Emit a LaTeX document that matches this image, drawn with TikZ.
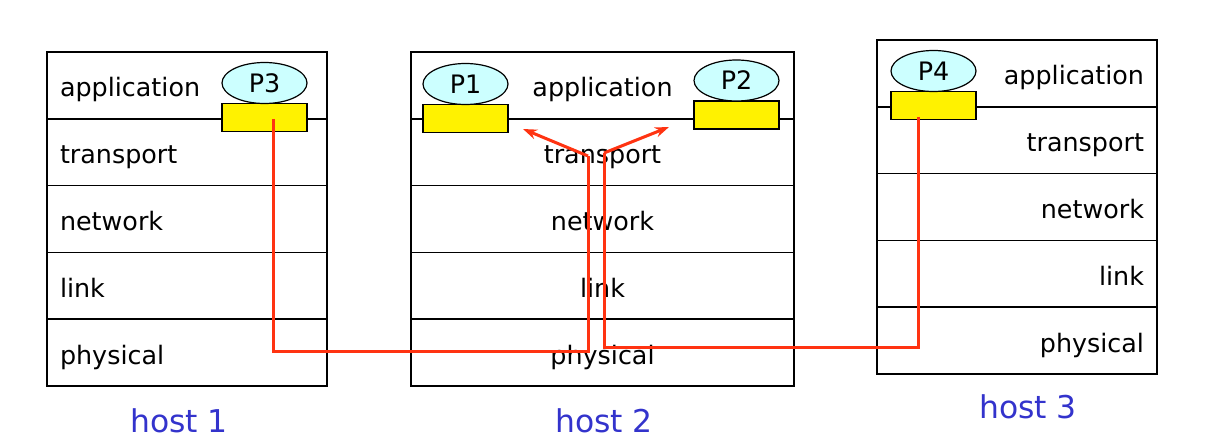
\documentclass[tikz,border=0pt]{standalone}
\usepackage{fontspec}
\setmainfont{DejaVu Sans}
\usetikzlibrary{arrows.meta,shapes.geometric,positioning}

\definecolor{pkred}{RGB}{255,51,17}
\definecolor{hostblue}{RGB}{51,51,204}
\definecolor{proccyan}{RGB}{204,255,255}

\begin{document}
\begin{tikzpicture}[
    x=0.5pt, y=-0.5pt,
    layer/.style={draw, line width=0.8pt, outer sep=0pt, inner xsep=6.5pt, inner ysep=0pt,
        minimum height=33.4pt, text height=11.5pt, text depth=0pt, font=\fontsize{12.7}{15}\selectfont},
    lay1/.style={layer, text width=127pt, align=left},
    lay2/.style={layer, text width=178.5pt, align=center},
    lay3/.style={layer, text width=127pt, align=right},
    sock/.style={draw, line width=0.6pt, fill=yellow, minimum width=42.5pt, minimum height=14pt, inner sep=0pt, outer sep=0pt},
    proc/.style={ellipse, draw, line width=0.6pt, fill=proccyan, minimum width=42.5pt, minimum height=20.5pt, inner sep=0pt, outer sep=0pt, font=\fontsize{12.7}{15}\selectfont},
    hostlbl/.style={text=hostblue, font=\fontsize{15.7}{18}\selectfont},
    pkt/.style={pkred, line width=1.5pt},
    pktarr/.style={pkred, line width=1.5pt, -{Stealth[length=7pt,width=5pt]}}
]
\useasboundingbox (0,0) rectangle (1208,438);

% host 1
\node[lay1, anchor=north west] (h1app) at (47,52) {application};
\node[lay1, below=0pt of h1app] (h1trans) {transport};
\node[lay1, below=0pt of h1trans] (h1net) {network};
\node[lay1, below=0pt of h1net] (h1link) {link};
\node[lay1, below=0pt of h1link] (h1phys) {physical};

% host 2
\node[lay2, anchor=north west] (h2app) at (411,52) {application};
\node[lay2, below=0pt of h2app] (h2trans) {transport};
\node[lay2, below=0pt of h2trans] (h2net) {network};
\node[lay2, below=0pt of h2net] (h2link) {link};
\node[lay2, below=0pt of h2link] (h2phys) {physical};

% host 3
\node[lay3, anchor=north west] (h3app) at (877,40) {application};
\node[lay3, below=0pt of h3app] (h3trans) {transport};
\node[lay3, below=0pt of h3trans] (h3net) {network};
\node[lay3, below=0pt of h3net] (h3link) {link};
\node[lay3, below=0pt of h3link] (h3phys) {physical};

% sockets and processes
\node[sock] (p3box) at (264.5,117.5) {};
\node[proc, above=0pt of p3box] (p3) {P3};
\node[sock] (p1box) at (465.5,118.5) {};
\node[proc, above=0pt of p1box] (p1) {P1};
\node[sock] (p2box) at (736.5,115) {};
\node[proc, above=0pt of p2box] (p2) {P2};
\node[sock] (p4box) at (933.5,105.5) {};
\node[proc, above=0pt of p4box] (p4) {P4};

% host labels
\node[hostlbl] (host1) at (179,421) {host 1};
\node[hostlbl] (host2) at (604,421) {host 2};
\node[hostlbl] (host3) at (1028,407) {host 3};

% packet paths
\coordinate (s3) at (273,119);
\coordinate (s4) at (918,117);
\coordinate (downL) at (273,351);
\coordinate (inL) at (588,351);
\coordinate (upL) at (588,156);
\coordinate (tipL) at (523,129);
\coordinate (downR) at (918,347);
\coordinate (inR) at (604,347);
\coordinate (upR) at (604,153);
\coordinate (tipR) at (669,127);

\draw[pkt] (s3) -- (downL) -- (inL) -- (upL);
\draw[pktarr] (upL) -- (tipL);
\draw[pkt] (s4) -- (downR) -- (inR) -- (upR);
\draw[pktarr] (upR) -- (tipR);
\end{tikzpicture}
\end{document}
